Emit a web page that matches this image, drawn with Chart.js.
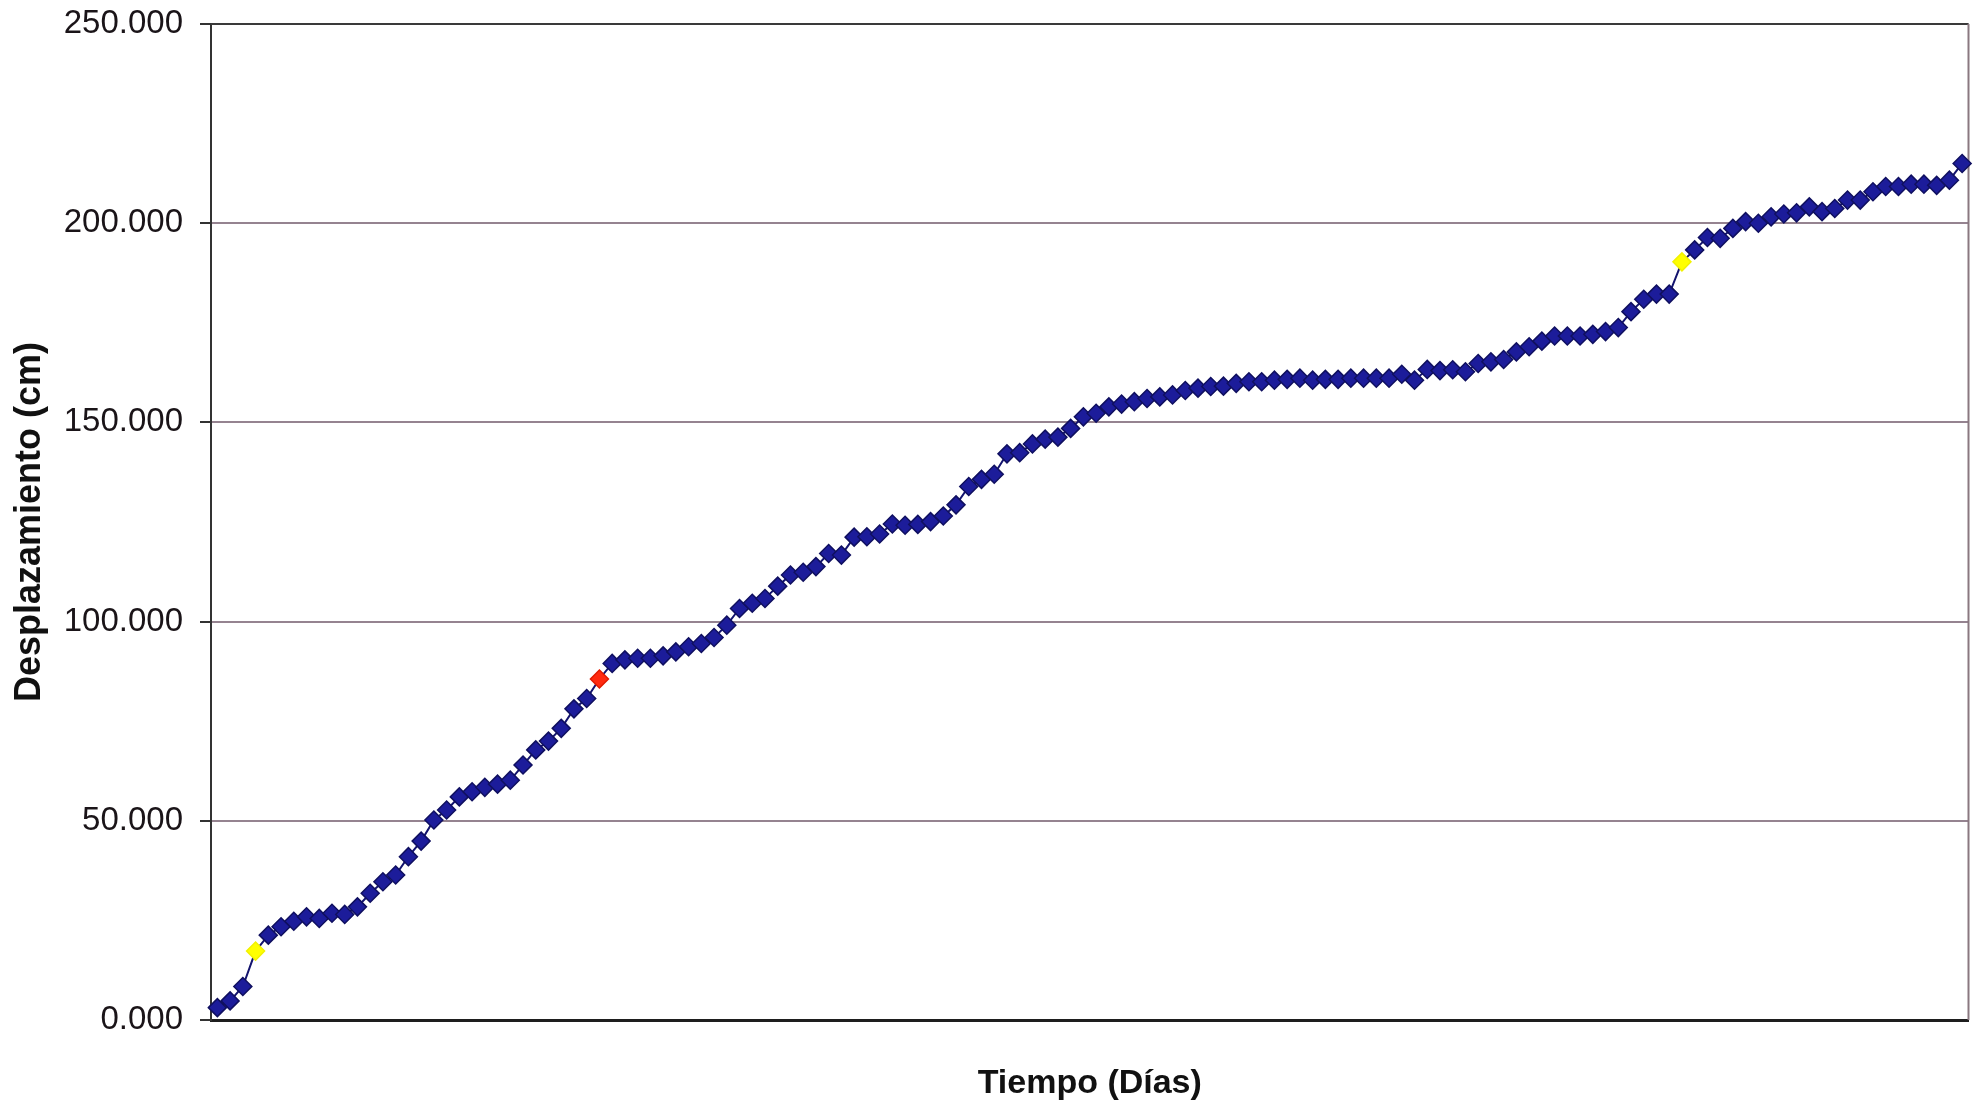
<!DOCTYPE html>
<html lang="es">
<head>
<meta charset="utf-8">
<title>Desplazamiento vs Tiempo</title>
<script src="https://cdn.jsdelivr.net/npm/chart.js@4/dist/chart.umd.min.js"></script>
<style>
  html, body { margin: 0; padding: 0; background: #ffffff; }
  canvas { display: block; }
</style>
</head>
<body>
<canvas id="grafico" width="1979" height="1107"></canvas>
<script>
// Desplazamiento acumulado (cm) por día de lectura
const desplazamiento = [
  3.1, 4.8, 8.4, 17.3, 21.3, 23.4, 24.8, 25.9, 25.5, 26.8,
  26.5, 28.4, 31.8, 34.7, 36.4, 41.0, 44.9, 50.2, 52.7, 56.0,
  57.3, 58.4, 59.2, 60.2, 64.0, 67.8, 70.0, 73.2, 78.1, 80.7,
  85.6, 89.5, 90.4, 90.8, 90.8, 91.4, 92.4, 93.7, 94.5, 96.0,
  99.1, 103.3, 104.6, 105.8, 108.9, 111.7, 112.4, 113.8, 117.1, 116.7,
  121.2, 121.3, 122.0, 124.5, 124.2, 124.4, 125.1, 126.5, 129.3, 133.9,
  135.7, 137.0, 142.1, 142.4, 144.6, 145.8, 146.3, 148.5, 151.4, 152.3,
  153.9, 154.6, 155.2, 156.0, 156.4, 156.9, 158.0, 158.6, 159.0, 159.1,
  159.8, 160.2, 160.2, 160.6, 160.8, 161.1, 160.6, 160.8, 160.8, 161.1,
  161.1, 161.1, 161.1, 162.1, 160.6, 163.3, 163.0, 163.2, 162.7, 164.8,
  165.2, 165.8, 167.7, 169.0, 170.4, 171.7, 171.7, 171.7, 172.1, 172.8,
  173.8, 177.8, 180.9, 182.2, 182.2, 190.3, 193.3, 196.4, 196.2, 198.7,
  200.4, 200.0, 201.6, 202.3, 202.6, 204.1, 202.9, 203.7, 205.8, 205.8,
  207.9, 209.2, 209.2, 209.8, 209.8, 209.5, 210.8, 215.0
];

// Días de lectura (categorías del eje horizontal)
const dias = desplazamiento.map((_, i) => i + 1);

// Lecturas resaltadas (índices)
const lecturasAmarillas = [3, 115];
const lecturasRojas = [30];

// Marcas del eje vertical
const marcasY = [0, 50, 100, 150, 200, 250];

const RELLENO = '#1c1c9a';
const BORDE = '#101060';
const rellenoPuntos = dias.map((_, i) =>
  lecturasRojas.includes(i) ? '#ff2a10' : lecturasAmarillas.includes(i) ? '#ffff00' : RELLENO);
const bordePuntos = dias.map((_, i) =>
  lecturasRojas.includes(i) ? '#e01a00' : lecturasAmarillas.includes(i) ? '#f2f200' : BORDE);

// Marco superior y derecho del área de trazado
const marcoArea = {
  id: 'marcoArea',
  beforeDatasetsDraw(chart) {
    const { ctx, chartArea: a } = chart;
    ctx.save();
    ctx.lineWidth = 2;
    ctx.strokeStyle = '#3a3a3a';
    ctx.beginPath();
    ctx.moveTo(a.left, a.top);
    ctx.lineTo(a.right, a.top);
    ctx.stroke();
    ctx.strokeStyle = '#8a7880';
    ctx.beginPath();
    ctx.moveTo(a.right, a.top);
    ctx.lineTo(a.right, a.bottom);
    ctx.stroke();
    ctx.restore();
  }
};

new Chart(document.getElementById('grafico'), {
  type: 'line',
  data: {
    labels: dias,
    datasets: [{
      label: 'Desplazamiento',
      data: desplazamiento,
      borderColor: '#14146e',
      borderWidth: 2,
      tension: 0,
      fill: false,
      pointStyle: 'rectRot',
      pointRadius: 9,
      pointBorderWidth: 1.5,
      pointBackgroundColor: rellenoPuntos,
      pointBorderColor: bordePuntos
    }]
  },
  options: {
    responsive: false,
    animation: false,
    devicePixelRatio: 1,
    layout: { padding: { top: 24, right: 9, bottom: 0, left: 0 } },
    plugins: {
      legend: { display: false },
      tooltip: { enabled: false }
    },
    scales: {
      x: {
        type: 'category',
        offset: true,
        grid: { display: false },
        border: { display: true, color: '#1e1e1e', width: 3 },
        ticks: { display: false },
        title: {
          display: true,
          text: 'Tiempo (Días)',
          color: '#111111',
          font: { family: '"Liberation Sans", Arial, sans-serif', size: 34, weight: 'bold', lineHeight: 1 },
          padding: { top: 0, bottom: 6 }
        },
        afterFit(scale) { scale.height = 87; }
      },
      y: {
        min: 0,
        max: 250,
        afterBuildTicks(scale) { scale.ticks = marcasY.map(v => ({ value: v })); },
        grid: {
          color: '#958390',
          lineWidth: 2,
          drawTicks: true,
          tickLength: 11,
          tickColor: '#333333',
          tickWidth: 2
        },
        border: { display: true, color: '#333333', width: 2 },
        ticks: {
          padding: 17,
          color: '#1a1418',
          font: { family: '"Liberation Sans", Arial, sans-serif', size: 33 },
          callback: v => Number(v).toFixed(3)
        },
        title: {
          display: true,
          text: 'Desplazamiento (cm)',
          color: '#111111',
          font: { family: '"Liberation Sans", Arial, sans-serif', size: 36, weight: 'bold', lineHeight: 1 },
          padding: { top: 12, bottom: 0 }
        },
        afterFit(scale) {
          scale.width = 211;
          scale.paddingTop = 0;
          scale.paddingBottom = 0;
        }
      }
    }
  },
  plugins: [marcoArea]
});
</script>
</body>
</html>
